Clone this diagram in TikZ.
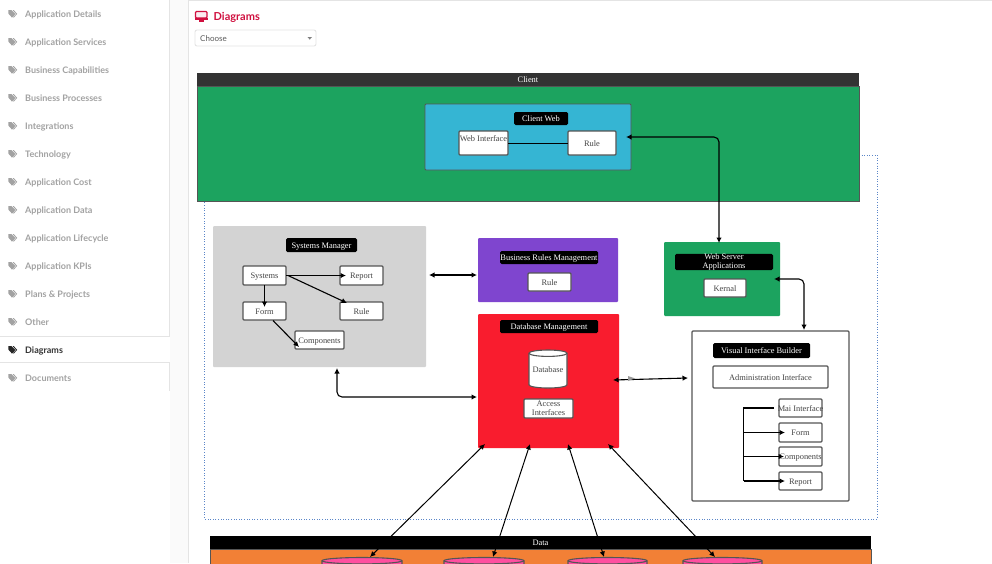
\documentclass[tikz,border=0pt]{standalone}
\usepackage{fontspec}
\setmainfont{Liberation Serif}
\newfontfamily\uifont{Lato}
\usetikzlibrary{arrows.meta,calc}
\definecolor{greenbox}{HTML}{1CA35F}
\definecolor{bluebox}{HTML}{35B5D3}
\definecolor{purplebox}{HTML}{7F45CF}
\definecolor{redbox}{HTML}{F91C2E}
\definecolor{greybox}{HTML}{D3D3D3}
\definecolor{orangebox}{HTML}{F28036}
\definecolor{pinkbox}{HTML}{FF4FA0}
\definecolor{edgegrey}{HTML}{555555}
\definecolor{labelgrey}{HTML}{444444}
\definecolor{sidegrey}{HTML}{A2A2A2}
\definecolor{panelline}{HTML}{E4E4E4}
\definecolor{crimson}{HTML}{D0103F}
\definecolor{dotblue}{HTML}{5B86C8}
\tikzset{
  basebox/.style={inner sep=0pt,outer sep=0pt,align=center,font=\fontsize{8.4}{8.6}\selectfont,text height=8pt,text depth=2pt},
  multi/.style={text height=,text depth=},
  whitebox/.style={basebox,draw=edgegrey,line width=1.1pt,fill=white,rounded corners=1pt,text=labelgrey},
  titlebox/.style={basebox,fill=black,rounded corners=1.5pt,text=white},
  flatbox/.style={basebox,rounded corners=1pt},
  band/.style={basebox,text=white},
  conn/.style={draw=black,line width=1.1pt},
  both/.style={conn,{Latex[length=5.5pt,width=5.5pt]}-{Latex[length=5.5pt,width=5.5pt]}},
  onearrow/.style={conn,-{Latex[length=5.5pt,width=5.5pt]}},
  sideitem/.style={anchor=west,inner sep=0pt,font=\uifont\bfseries\fontsize{9}{10}\selectfont,text=sidegrey},
}
% name x1 y1 x2 y2 style text
\newcommand{\bx}[7]{%
  \pgfmathsetmacro{\cxv}{(#2+#4)/2}\pgfmathsetmacro{\cyv}{(#3+#5)/2}%
  \pgfmathsetmacro{\wv}{#4-#2}\pgfmathsetmacro{\hv}{#5-#3}%
  \node[#6,minimum width=\wv pt,minimum height=\hv pt] (#1) at (\cxv,\cyv) {#7};}
% name x1 y1 x2 y2 fill text
\newcommand{\cyl}[7]{%
  \pgfmathsetmacro{\rv}{(#4-#2)/2}\pgfmathsetmacro{\ev}{3.2}%
  \pgfmathsetmacro{\ta}{#3+\ev}\pgfmathsetmacro{\tb}{#5-\ev}%
  \draw[draw=edgegrey,line width=1.1pt,fill=#6] (#2,\ta) -- (#2,\tb)
     arc[start angle=180,end angle=360,x radius=\rv pt,y radius=\ev pt]
     -- (#4,\ta) arc[start angle=0,end angle=180,x radius=\rv pt,y radius=\ev pt] -- cycle;
  \draw[draw=edgegrey,line width=1.1pt] (#2,\ta) arc[start angle=180,end angle=360,x radius=\rv pt,y radius=\ev pt];
  \bx{#1}{#2}{#3}{#4}{#5}{basebox,text=labelgrey}{#7}}
\newcommand{\tagicon}[3]{%
  \begin{scope}[shift={(#1,#2)}]
    \fill[#3] (-3.6,-4) -- (-0.6,-4) -- (3.4,0) -- (0,3.6) -- (-3.6,-0.4) -- cycle;
    \fill[#3] (0.6,-4) -- (1.6,-4) -- (5.2,-0.2) -- (1.8,3.6) -- (1.2,3) -- (4,0) -- cycle;
  \end{scope}}
\begin{document}
\begin{tikzpicture}[x=1pt,y=-1pt]
\useasboundingbox (0,0) rectangle (992,563);
\clip (0,0) rectangle (992,563);
\fill[white] (0,0) rectangle (992,563);
% page chrome
\fill[black!2] (170,0) rectangle (188,563);
\draw[panelline,line width=.8pt] (188,563) -- (188,.4) -- (992,.4);
\draw[panelline,line width=.8pt] (169.5,0) -- (169.5,336) -- (0,336);
\draw[panelline,line width=.8pt] (0,362.5) -- (169.5,362.5) -- (169.5,391);
\foreach \i/\lab/\yy in {1/Application Details/14,2/Application Services/42,3/Business Capabilities/70,4/Business Processes/98,5/Integrations/126,6/Technology/154,7/Application Cost/182,8/Application Data/210,9/Application Lifecycle/238,10/Application KPIs/266,11/Plans \& Projects/294,12/Other/322,14/Documents/378}{
  \tagicon{12}{\yy}{sidegrey}
  \node[sideitem] (item\i) at (25,\yy+0.6) {\lab};
}
\tagicon{12}{350}{black!85}
\node[sideitem,text=black!80] (item13) at (25,350.6) {Diagrams};
% heading
\draw[crimson,line width=1.3pt,rounded corners=1pt,fill=crimson!8] (195.5,11.5) rectangle (207,18);
\fill[crimson] (195,18) rectangle (207.5,20);
\fill[crimson] (198.5,20) rectangle (204,21.5);
\node[anchor=west,inner sep=0pt,font=\uifont\bfseries\fontsize{11}{12}\selectfont,text=crimson] (heading) at (213.5,17.5) {Diagrams};
\bx{choose}{195}{30}{316}{46}{draw=panelline,line width=.9pt,fill=white,rounded corners=2pt,inner sep=0pt}{}
\node[anchor=west,inner sep=0pt,font=\uifont\fontsize{8}{9}\selectfont,text=black!65] (chooselabel) at (200,38.5) {Choose};
\fill[black!50] (307.5,37) -- (312,37) -- (309.75,39.6) -- cycle;
% dotted frame
\draw[dotblue,line width=.8pt,dash pattern=on 1pt off 1.6pt] (859,155) -- (877,155) -- (877,519) -- (204.5,519) -- (204.5,201);
% Client
\bx{clientbar}{197}{73}{859}{86}{band,fill=black!80}{Client}
\bx{client}{197}{86}{859}{201}{basebox,fill=greenbox,draw=edgegrey,line width=.8pt}{}
\bx{cw}{425}{104}{631}{170}{basebox,fill=bluebox,draw=edgegrey,line width=.9pt,rounded corners=1pt}{}
\bx{cwt}{514}{112}{568}{125}{titlebox}{Client Web}
\bx{wi}{459}{131}{508}{155}{whitebox}{\raisebox{4.7pt}{\makebox[0pt]{Web Interface}}}
\bx{cwr}{568}{131}{616}{155}{whitebox}{Rule}
\draw[conn,line width=.9pt] (wi.east) -- (cwr.west);
% Systems manager
\bx{sm}{213}{226}{426}{367}{flatbox,fill=greybox}{}
\bx{smt}{286}{238}{357}{252}{titlebox}{Systems Manager}
\bx{sys}{243}{266}{286}{285}{whitebox}{Systems}
\bx{rep}{340}{266}{383}{285}{whitebox}{Report}
\bx{frm}{243}{302}{286}{320}{whitebox}{Form}
\bx{smr}{340}{302}{383}{320}{whitebox}{Rule}
\bx{cmp}{295}{331}{344}{349}{whitebox}{\makebox[0pt]{Components}}
\draw[onearrow] (sys.east) -- ($(rep.west)+(6,0)$);
\draw[onearrow] ($(sys.east)+(2,0)$) -- ($(smr.north west)+(7,1)$);
\draw[onearrow] (sys.south) -- ($(frm.north)+(0,5)$);
\draw[onearrow] ($(frm.south)+(8.5,0.5)$) -- ($(cmp.south west)+(4,-2)$);
% Business rules
\bx{brm}{478}{238}{618}{302}{flatbox,fill=purplebox}{}
\bx{brt}{500}{251}{598}{264}{titlebox}{\makebox[0pt]{Business Rules Management}}
\bx{brr}{528}{273}{571}{291}{whitebox}{Rule}
% Web server
\bx{wsa}{664}{242}{780}{316}{flatbox,fill=greenbox}{}
\bx{wst}{675}{254}{773}{270}{titlebox,multi}{\raisebox{-2pt}{\parbox[c]{90pt}{\centering Web Server\\Applications}}}
\bx{ker}{704}{279}{746}{297}{whitebox}{Kernal}
% Database
\bx{dbm}{478}{314}{619}{448}{flatbox,fill=redbox}{}
\bx{dbt}{500}{320}{598}{333}{titlebox}{Database Management}
\cyl{dbc}{529}{350}{567}{388}{white}{Database}
\bx{acc}{524}{399}{573}{418}{whitebox,multi}{Access\\Interfaces}
% Visual builder
\bx{vib}{692}{331}{849}{501}{basebox,fill=white,draw=edgegrey,line width=1.1pt,rounded corners=1pt}{}
\bx{vit}{713}{343}{810}{358}{titlebox}{Visual Interface Builder}
\bx{adm}{713}{366}{828}{388}{whitebox}{Administration Interface}
\bx{mai}{779}{399}{822}{417}{whitebox}{\makebox[0pt]{Mai Interface}}
\bx{vfm}{779}{423}{822}{442}{whitebox}{Form}
\bx{vcp}{779}{447}{822}{466}{whitebox}{\makebox[0pt]{Components}}
\bx{vrp}{779}{472}{822}{490}{whitebox}{Report}
\coordinate (trunk) at (743.5,408);
\draw[conn] ($(mai.west)+(-5,0)$) -- (trunk) -- (trunk |- vrp.west);
\draw[onearrow] (trunk |- vfm.west) -- ($(vfm.west)+(6,0)$);
\draw[onearrow] (trunk |- vcp.west) -- ($(vcp.west)+(5,0)$);
\draw[onearrow] (trunk |- vrp.west) -- ($(vrp.west)+(6,0)$);
% Data layer
\bx{dat}{210}{549}{871}{590}{basebox,fill=orangebox,draw=edgegrey,line width=.8pt}{}
\cyl{d1}{322}{557.5}{402}{600}{pinkbox}{}
\cyl{d2}{444}{557.5}{524}{600}{pinkbox}{}
\cyl{d3}{568}{557.5}{647}{600}{pinkbox}{}
\cyl{d4}{683}{557.5}{762}{600}{pinkbox}{}
% connectors between groups
\draw[both,rounded corners=5pt] ($(cw.east)+(-5,0)$) -| ($(wsa.north)+(-3,1)$);
\draw[both] ($(sm.east |- brm.west)+(3,5)$) -- ($(brm.west)+(-1,5)$);
\draw[both,rounded corners=5pt] ($(wsa.east)+(-6,0)$) -| ($(vib.north)+(33.5,-1)$);
\draw[both,rounded corners=5pt] ($(sm.south)+(17.5,1)$) |- ($(dbm.west)+(-1,16)$);
\draw[both] ($(dbm.east)+(-6,-1)$) -- ($(vib.west)+(-4,-38)$);
\fill[black!40] (628,376) -- (635,378.4) -- (628,381) -- cycle;
\draw[both,line width=1pt] ($(d1.north)+(8,-0.5)$) -- ($(dbm.south west)+(7,-4)$);
\draw[both,line width=1pt] ($(d2.north)+(9,-0.5)$) -- ($(dbm.south west)+(52,-4)$);
\draw[both,line width=1pt] ($(d3.north)+(-3.5,-0.5)$) -- ($(dbm.south west)+(90,-4)$);
\draw[both,line width=1pt] ($(d4.north)+(-7.5,-0.5)$) -- ($(dbm.south west)+(130,-4)$);
\bx{datbar}{210}{536}{871}{549}{band,fill=black}{Data}
\end{tikzpicture}
\end{document}
